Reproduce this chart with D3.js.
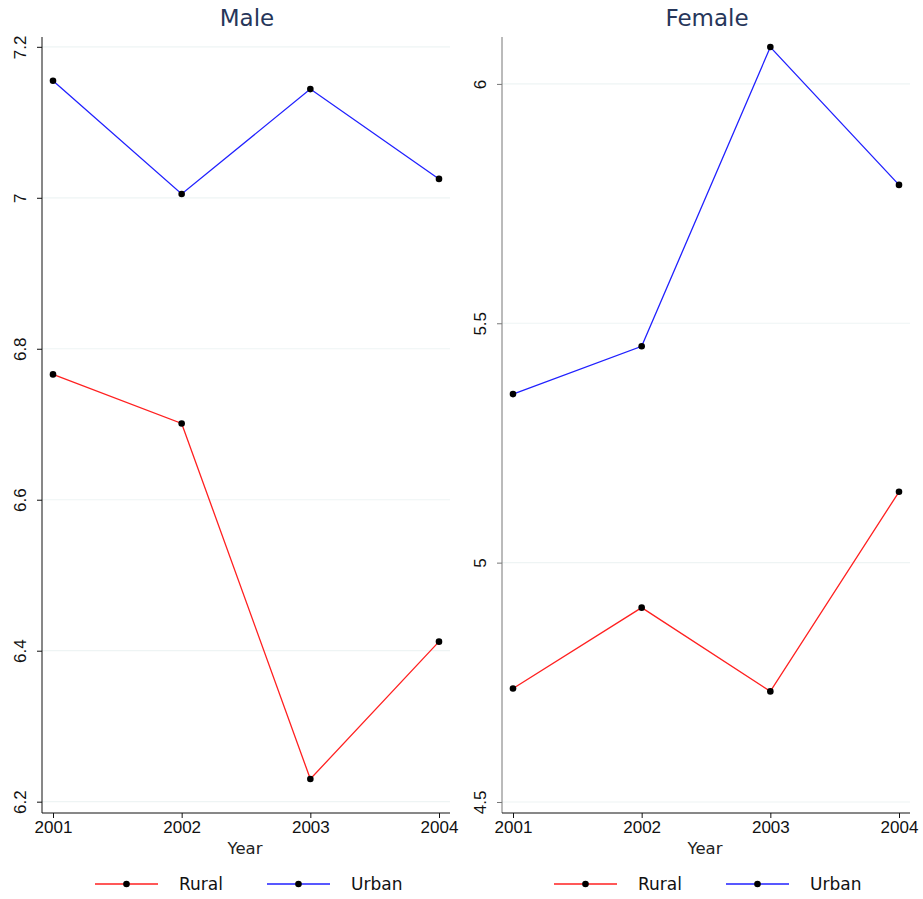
<!DOCTYPE html>
<html>
<head>
<meta charset="utf-8">
<script src="https://cdn.jsdelivr.net/npm/d3@7"></script>
<style>
body { margin: 0; background: #fff; }
svg { font-family: "DejaVu Sans", sans-serif; }
</style>
</head>
<body>
<div id="chart"></div>
<script>
// donnees
var years = [2001, 2002, 2003, 2004];
var maleRural = [6.766, 6.701, 6.230, 6.412];
var maleUrban = [7.155, 7.005, 7.144, 7.025];
var femaleRural = [4.737, 4.906, 4.731, 5.148];
var femaleUrban = [5.352, 5.452, 6.077, 5.789];
var maleTicks = [6.2, 6.4, 6.6, 6.8, 7, 7.2];
var femaleTicks = [4.5, 5, 5.5, 6];
var seriesNames = ["Rural", "Urban"];
var seriesColors = ["#ff2020", "#2020ff"];

var svg = d3.select("#chart").append("svg")
    .attr("width", 923)
    .attr("height", 899);

function drawPanel(title, rural, urban, ticks, yDomain, left, axisColor, legendX) {
    var x = d3.scaleLinear().domain([2001, 2004]).range([left + 11, left + 397]);
    var y = d3.scaleLinear().domain(yDomain).range([813, 37]);
    var right = left + 408;
    var g = svg.append("g");

    // grille
    g.selectAll(".grid")
        .data(ticks)
        .enter().append("line")
            .attr("x1", left).attr("x2", right)
            .attr("y1", d => y(d)).attr("y2", d => y(d))
            .attr("stroke", "#eef4f4")
            .attr("stroke-width", 1.2);

    // axe y
    var yAxis = g.append("g")
        .attr("transform", "translate(" + left + ",0)")
        .call(d3.axisLeft(y).tickValues(ticks).tickSize(5).tickPadding(8).tickFormat(d3.format("")));
    yAxis.select(".domain").attr("d", "M0,37V813").attr("stroke", axisColor);
    yAxis.selectAll(".tick line").attr("stroke", axisColor);
    yAxis.selectAll(".tick text")
        .attr("transform", "rotate(-90)")
        .attr("x", 0)
        .attr("y", -16)
        .attr("dy", 0)
        .attr("text-anchor", "middle")
        .style("font-size", "17px")
        .attr("fill", "#111");

    // axe x
    var xAxis = g.append("g")
        .attr("transform", "translate(0,813)")
        .call(d3.axisBottom(x).tickValues(years).tickSize(5).tickPadding(3).tickFormat(d3.format("d")));
    xAxis.select(".domain").attr("d", "M" + left + ",0H" + right).attr("stroke", "#111");
    xAxis.selectAll(".tick line").attr("stroke", "#111");
    xAxis.selectAll(".tick text").style("font-size", "17px").attr("fill", "#111");

    g.append("text")
        .attr("x", (left + right) / 2 - 1)
        .attr("y", 854)
        .attr("text-anchor", "middle")
        .style("font-size", "16.5px")
        .attr("fill", "#222")
        .text("Year");

    g.append("text")
        .attr("x", (left + right) / 2 + 1)
        .attr("y", 26)
        .attr("text-anchor", "middle")
        .style("font-size", "23px")
        .attr("fill", "#26365a")
        .text(title);

    var line = d3.line()
        .x((d, i) => x(years[i]))
        .y(d => y(d));

    [rural, urban].forEach(function(s, k) {
        g.append("path")
            .attr("d", line(s))
            .attr("fill", "none")
            .attr("stroke", seriesColors[k])
            .attr("stroke-width", 1.3);
        g.selectAll(".pt" + k)
            .data(s)
            .enter().append("circle")
                .attr("cx", (d, i) => x(years[i]))
                .attr("cy", d => y(d))
                .attr("r", 3.3)
                .attr("fill", "#000");
    });

    // legende
    seriesNames.forEach(function(name, k) {
        var lx = legendX + k * 172;
        g.append("line")
            .attr("x1", lx).attr("x2", lx + 63)
            .attr("y1", 884).attr("y2", 884)
            .attr("stroke", seriesColors[k])
            .attr("stroke-width", 1.3);
        g.append("circle")
            .attr("cx", lx + 31.5).attr("cy", 884)
            .attr("r", 3.3).attr("fill", "#000");
        g.append("text")
            .attr("x", lx + 84).attr("y", 890)
            .style("font-size", "17px")
            .attr("fill", "#111")
            .text(name);
    });
}

drawPanel("Male", maleRural, maleUrban, maleTicks, [6.185, 7.213], 42, "#111", 95);
drawPanel("Female", femaleRural, femaleUrban, femaleTicks, [4.477, 6.098], 502, "#777", 554);
</script>
</body>
</html>
